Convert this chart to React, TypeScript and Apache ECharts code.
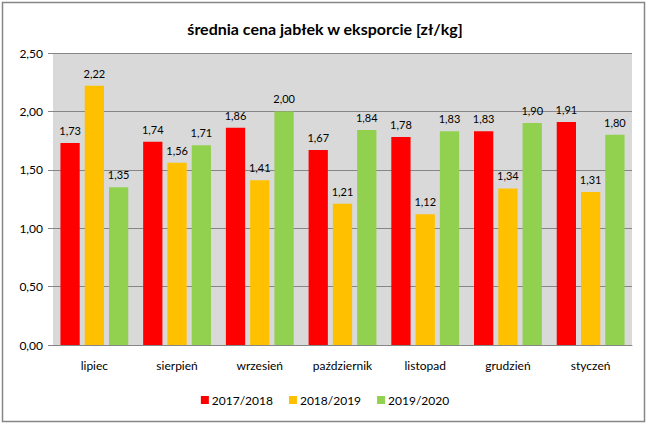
import React, { useEffect, useRef } from "react";
import * as echarts from "echarts";

const categories = ["lipiec", "sierpień", "wrzesień", "październik", "listopad", "grudzień", "styczeń"];
const seriesNames = ["2017/2018", "2018/2019", "2019/2020"];
const s2017 = [1.73, 1.74, 1.86, 1.67, 1.78, 1.83, 1.91];
const s2018 = [2.22, 1.56, 1.41, 1.21, 1.12, 1.34, 1.31];
const s2019 = [1.35, 1.71, 2.0, 1.84, 1.83, 1.9, 1.8];
const colors = ["#FF0000", "#FFC000", "#92D050"];

const FONT = "Lato, 'Open Sans', sans-serif";
const fmt = (v: number) => v.toFixed(2).replace(".", ",");

export default function App() {
  const ref = useRef<HTMLDivElement>(null);
  useEffect(() => {
    if (!ref.current) return;
    const chart = echarts.init(ref.current, null, { renderer: "svg" });
    const data = [s2017, s2018, s2019];
    chart.setOption({
      animation: false,
      backgroundColor: "#ffffff",
      title: {
        text: "średnia cena jabłek w eksporcie [zł/kg]",
        left: "center",
        top: 15,
        textStyle: { fontFamily: FONT, fontSize: 16, fontWeight: "bold", color: "#000" },
      },
      graphic: [
        {
          type: "rect",
          shape: { x: 2.5, y: 2.5, width: 642, height: 419 },
          style: { fill: "none", stroke: "#868686", lineWidth: 1.5 },
          silent: true,
        },
      ],
      legend: {
        bottom: 12,
        left: "center",
        itemWidth: 8,
        itemHeight: 8,
        itemGap: 16,
        icon: "rect",
        textStyle: { fontFamily: FONT, fontSize: 12, color: "#000", padding: [0, 0, 0, -2] },
        data: seriesNames,
      },
      grid: {
        left: 53,
        right: 18,
        top: 53,
        bottom: 78,
        show: true,
        backgroundColor: "#D9D9D9",
        borderWidth: 0,
      },
      xAxis: {
        type: "category",
        data: categories,
        axisLine: { show: true, lineStyle: { color: "#868686" } },
        axisTick: { show: false },
        axisLabel: { fontFamily: FONT, fontSize: 12, color: "#000", margin: 14 },
      },
      yAxis: {
        type: "value",
        min: 0,
        max: 2.5,
        interval: 0.5,
        axisLine: { show: false },
        axisTick: { show: true, length: 5, lineStyle: { color: "#868686" } },
        splitLine: { lineStyle: { color: "#868686", width: 1 } },
        axisLabel: { fontFamily: FONT, fontSize: 12, color: "#000", margin: 10, formatter: (v: number) => fmt(v) },
      },
      series: seriesNames.map((name, i) => ({
        name,
        type: "bar",
        data: data[i],
        barGap: "26%",
        barCategoryGap: "18%",
        itemStyle: { color: colors[i] },
        label: {
          show: true,
          position: "top",
          distance: 7,
          fontFamily: FONT,
          fontSize: 11,
          color: "#000",
          formatter: (p: any) => fmt(p.value),
        },
      })),
    });
    return () => chart.dispose();
  }, []);
  return <div ref={ref} style={{ width: 650, height: 423, position: "absolute", left: 0, top: 0 }} />;
}
